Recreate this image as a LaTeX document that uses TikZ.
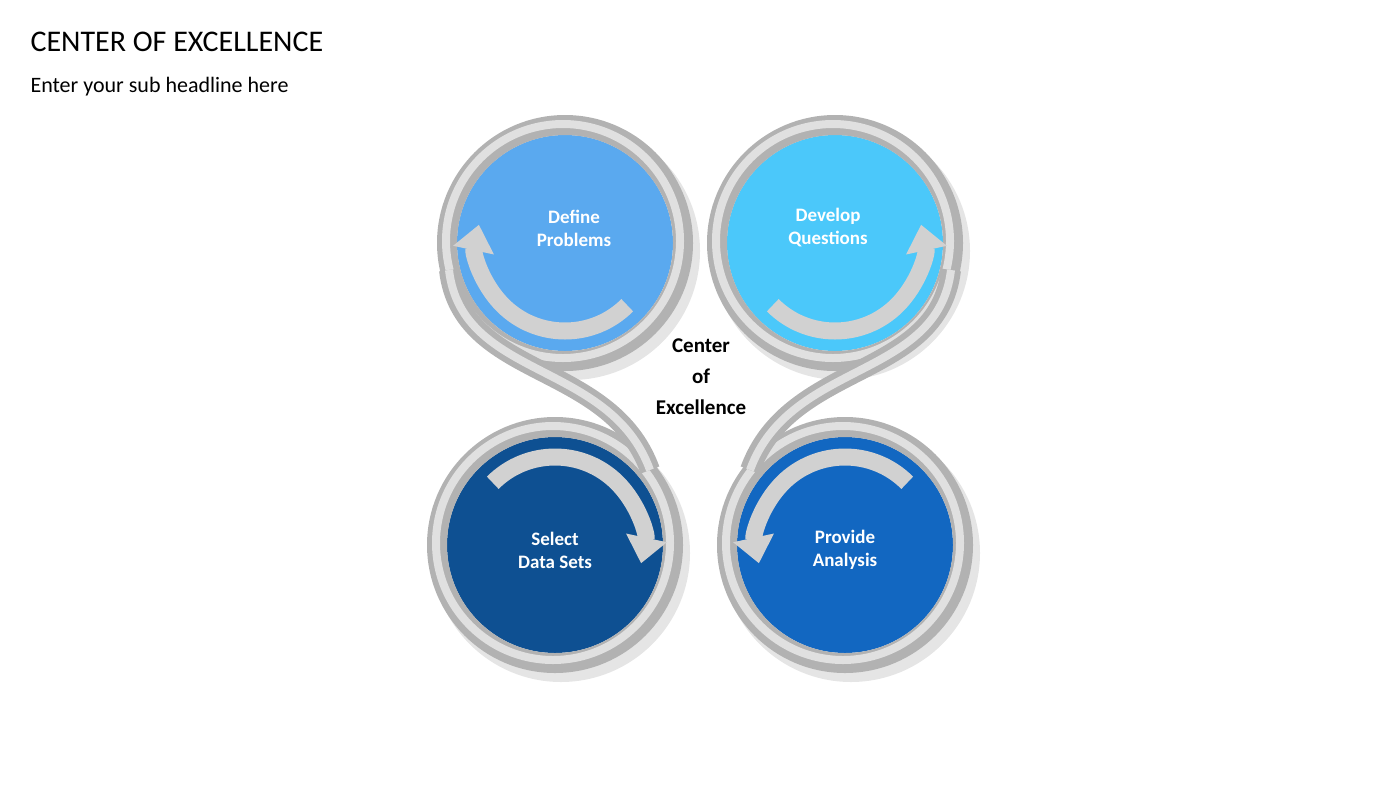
\documentclass[tikz,border=0pt]{standalone}
\usepackage{fontspec}
\setmainfont{Carlito}
\usetikzlibrary{arrows.meta}
\definecolor{cA}{HTML}{5AA9EF}
\definecolor{cB}{HTML}{4BC8FA}
\definecolor{cC}{HTML}{0E5092}
\definecolor{cD}{HTML}{1267C1}
\tikzset{
  ring/.style={line width=20pt, draw=black!30},
  ringhi/.style={line width=8pt, draw=black!12},
  shad/.style={line width=22pt, draw=black!10},
  band/.style={line width=20pt, draw=black!30, line cap=butt},
  bandhi/.style={line width=8pt, draw=black!12},
  arr/.style={line width=17pt, draw=black!18, -{Triangle[length=26pt,width=40pt]}},
  lab/.style={text=white, font=\bfseries\fontsize{19}{23}\selectfont, align=center},
}
\begin{document}
\begin{tikzpicture}[x=1pt,y=-1pt]
\useasboundingbox (0,0) rectangle (1400,788);
\node[anchor=west, font=\fontsize{30}{34}\selectfont] (title) at (27,42) {CENTER OF EXCELLENCE};
\node[anchor=west, font=\fontsize{22}{26}\selectfont] (sub) at (27,87) {Enter your sub headline here};
% shadows
\foreach \x/\y in {565/243,835/243,555/545,845/545}
  \draw[shad] (\x+6,\y+8) circle (118);
% fills
\fill[cA] (565,243) circle (108);
\fill[cB] (835,243) circle (108);
\fill[cC] (555,545) circle (108);
\fill[cD] (845,545) circle (108);
% rings
\foreach \x/\y in {565/243,835/243,555/545,845/545}{
  \draw[ring] (\x,\y) circle (118);
  \draw[ringhi] (\x-2,\y-2) circle (117);}
% S bands
\draw[band] (449,270) .. controls (462,380) and (610,360) .. (650,470);
\draw[bandhi] (449,270) .. controls (462,380) and (610,360) .. (650,470);
\draw[band] (951,270) .. controls (938,380) and (790,360) .. (750,470);
\draw[bandhi] (951,270) .. controls (938,380) and (790,360) .. (750,470);
% arrows
\draw[arr] (565,243) ++(45:88) arc[start angle=45,end angle=192,radius=88];
\draw[arr] (835,243) ++(135:88) arc[start angle=135,end angle=-12,radius=88];
\draw[arr] (555,545) ++(-135:88) arc[start angle=-135,end angle=12,radius=88];
\draw[arr] (845,545) ++(-45:88) arc[start angle=-45,end angle=-192,radius=88];
% labels
\node[lab] (t1) at (574,228) {Define\\Problems};
\node[lab] (t2) at (828,228) {Develop\\Questions};
\node[lab] (t3) at (555,550) {Select\\Data Sets};
\node[lab] (t4) at (845,550) {Provide\\Analysis};
\node[font=\bfseries\fontsize{21}{31}\selectfont, align=center] (ctr) at (701,377) {Center\\of\\Excellence};
\end{tikzpicture}
\end{document}
